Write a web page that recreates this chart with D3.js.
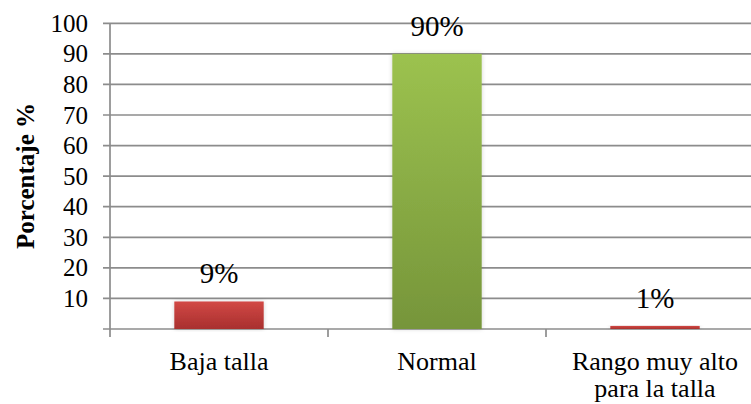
<!DOCTYPE html>
<html>
<head>
<meta charset="utf-8">
<script src="https://cdn.jsdelivr.net/npm/d3@7/dist/d3.min.js"></script>
<style>
  html, body { margin: 0; padding: 0; background: #fff; }
  #chart text { font-family: "Liberation Serif", "Tinos", "Times New Roman", "FreeSerif", serif; }
</style>
</head>
<body>
<svg id="chart" width="751" height="404"></svg>
<script>
// Distribución porcentual por categoría de talla
const categories = ["Baja talla", "Normal", "Rango muy alto\npara la talla"];
const values = [9, 90, 1];
const valueLabels = ["9%", "90%", "1%"];
const yTicks = [10, 20, 30, 40, 50, 60, 70, 80, 90, 100];
const barKinds = ["red", "green", "red"];

const svg = d3.select("#chart");
const gridColor = "#8c8c8c";

const x = d3.scaleBand()
  .domain(categories)
  .range([110, 764])
  .paddingInner(0.59)
  .paddingOuter(0.295);

const y = d3.scaleLinear().domain([0, 100]).range([329, 23.3]);

// Gradients for the bars
const defs = svg.append("defs");
const gradRed = defs.append("linearGradient").attr("id", "g-red")
  .attr("x1", 0).attr("y1", 0).attr("x2", 0).attr("y2", 1);
gradRed.append("stop").attr("offset", "0%").attr("stop-color", "#d24845");
gradRed.append("stop").attr("offset", "100%").attr("stop-color", "#a8302e");
const gradGreen = defs.append("linearGradient").attr("id", "g-green")
  .attr("x1", 0).attr("y1", 0).attr("x2", 0).attr("y2", 1);
gradGreen.append("stop").attr("offset", "0%").attr("stop-color", "#9cc24f");
gradGreen.append("stop").attr("offset", "100%").attr("stop-color", "#76953a");
const shadow = defs.append("filter").attr("id", "soft")
  .attr("x", "-10%").attr("y", "-10%").attr("width", "120%").attr("height", "120%");
shadow.append("feDropShadow").attr("dx", 0).attr("dy", 0)
  .attr("stdDeviation", 2).attr("flood-color", "#000").attr("flood-opacity", 0.18);

// Gridlines (extend left as tick marks)
svg.append("g").selectAll("line")
  .data([0].concat(yTicks))
  .join("line")
  .attr("x1", 103).attr("x2", 751)
  .attr("y1", d => y(d)).attr("y2", d => y(d))
  .attr("stroke", gridColor).attr("stroke-width", 1.7);

// Y tick labels
svg.append("g").selectAll("text")
  .data(yTicks)
  .join("text")
  .attr("x", 88).attr("y", d => y(d))
  .attr("dy", "0.34em")
  .attr("text-anchor", "end")
  .attr("font-size", 25)
  .attr("fill", "#000")
  .text(d => d);

// Y axis line
svg.append("line")
  .attr("x1", 110).attr("x2", 110)
  .attr("y1", y(100)).attr("y2", y(0) + 8)
  .attr("stroke", gridColor).attr("stroke-width", 1.7);

// Category separator ticks
const step = x.step();
const sepX = categories.map((c, i) => 110 + step * i).slice(1);
svg.append("g").selectAll("line")
  .data(sepX)
  .join("line")
  .attr("x1", d => d).attr("x2", d => d)
  .attr("y1", y(0)).attr("y2", y(0) + 8)
  .attr("stroke", gridColor).attr("stroke-width", 1.7);

// Bars
svg.append("g").selectAll("rect")
  .data(categories.map((c, i) => ({ c, v: values[i], k: barKinds[i] })))
  .join("rect")
  .attr("x", d => x(d.c))
  .attr("width", x.bandwidth())
  .attr("y", d => y(d.v))
  .attr("height", d => y(0) - y(d.v))
  .attr("fill", d => d.k === "red" ? "url(#g-red)" : "url(#g-green)")
  .attr("filter", "url(#soft)");

// Value labels
svg.append("g").selectAll("text")
  .data(categories.map((c, i) => ({ c, v: values[i], t: valueLabels[i] })))
  .join("text")
  .attr("x", d => x(d.c) + x.bandwidth() / 2)
  .attr("y", d => y(d.v) - 18)
  .attr("text-anchor", "middle")
  .attr("font-size", 29)
  .attr("fill", "#000")
  .text(d => d.t);

// Category labels, one text element per line
const catLines = [];
categories.forEach(c => c.split("\n").forEach((ln, i) => catLines.push({ c, ln, i })));
svg.append("g").selectAll("text")
  .data(catLines)
  .join("text")
  .attr("x", d => x(d.c) + x.bandwidth() / 2)
  .attr("y", d => 370 + d.i * 27)
  .attr("text-anchor", "middle")
  .attr("font-size", 26)
  .attr("fill", "#000")
  .text(d => d.ln);

// Y axis title
svg.append("text")
  .attr("transform", "translate(34,176) rotate(-90)")
  .attr("text-anchor", "middle")
  .attr("font-size", 25)
  .attr("font-weight", "bold")
  .attr("fill", "#000")
  .text("Porcentaje %");
</script>
</body>
</html>
